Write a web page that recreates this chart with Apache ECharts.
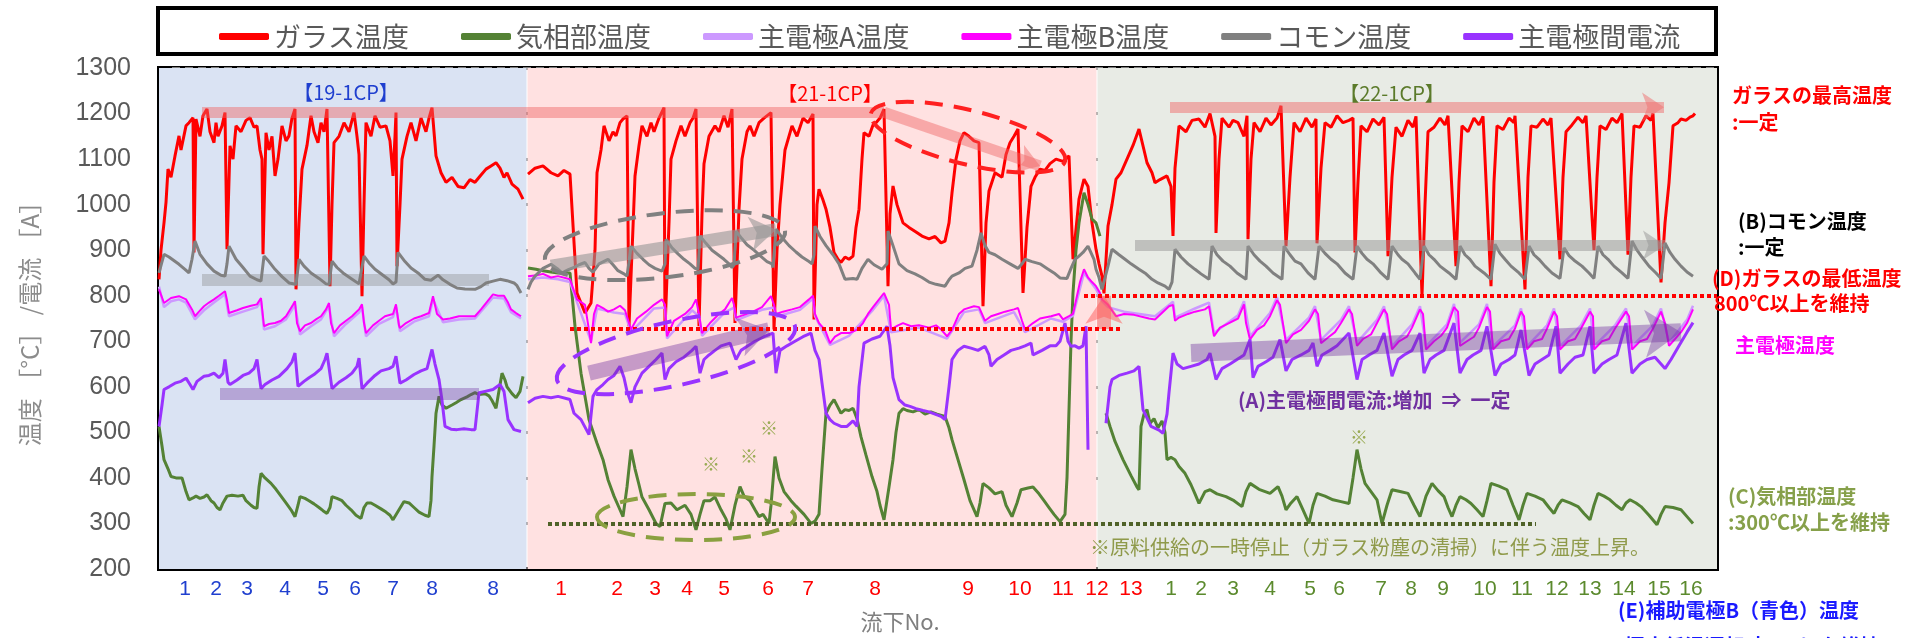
<!DOCTYPE html>
<html>
<head>
<meta charset="utf-8">
<title>温度・電流推移</title>
<script src="https://cdn.jsdelivr.net/npm/echarts@6.0.0/dist/echarts.min.js"></script>
<style>
html, body { margin: 0; padding: 0; background: #fff; }
#main { width: 1911px; height: 638px; }
</style>
</head>
<body>
<div id="main"></div>
<script>
// 横軸は経過位置 t (0..1558)、縦軸は 温度/電流
const tickPos = [26, 57, 88, 126, 164, 196, 234, 273, 334,
  402, 458, 496, 528, 565, 609, 649, 716, 809, 861, 904, 938, 972,
  1012, 1042, 1074, 1111, 1151, 1180, 1222, 1252, 1284, 1326, 1363, 1398, 1431, 1465, 1500, 1532];
const tickText = ['1', '2', '3', '4', '5', '6', '7', '8', '8',
  '1', '2', '3', '4', '5', '6', '7', '8', '9', '10', '11', '12', '13',
  '1', '2', '3', '4', '5', '6', '7', '8', '9', '10', '11', '12', '13', '14', '15', '16'];
const tickGroup = ['b', 'b', 'b', 'b', 'b', 'b', 'b', 'b', 'b',
  'r', 'r', 'r', 'r', 'r', 'r', 'r', 'r', 'r', 'r', 'r', 'r', 'r',
  'g', 'g', 'g', 'g', 'g', 'g', 'g', 'g', 'g', 'g', 'g', 'g', 'g', 'g', 'g', 'g'];

const names = ['ガラス温度', '気相部温度', '主電極A温度', '主電極B温度', 'コモン温度', '主電極間電流'];
const colors = ['#ff0000', '#548235', '#cc99ff', '#ff00ff', '#808080', '#9933ff'];

// ガラス温度
const glass = [
  [0,836],[2,900],[5,960],[7,1005],[9,1078],[12,1060],[16,1107],[20,1151],[22,1120],[27,1173],[30,1180],[34,1191],
  [35,895],[37,1188],[41,1150],[44,1195],[48,1210],[51,1160],[55,1136],[57,1180],[59,1150],[63,1173],[66,1202],
  [68,902],[71,1129],[74,1100],[77,1173],[82,1160],[87,1185],[91,1191],[95,1170],[98,1173],[101,1120],[103,1100],
  [104,891],[107,1158],[110,1120],[113,1150],[116,1063],[119,1100],[123,1173],[127,1140],[130,1151],[133,1190],[136,1210],
  [137,814],[140,960],[143,1078],[148,1130],[152,1195],[155,1160],[159,1136],[162,1180],[165,1160],[168,1210],
  [171,821],[173,1000],[175,1136],[180,1150],[185,1180],[190,1160],[195,1202],[198,1150],[200,1110],
  [203,799],[205,1000],[207,1180],[212,1150],[216,1195],[221,1170],[227,1173],[231,1140],[234,1063],[236,1150],[237,1202],
  [238,865],[241,1000],[243,1100],[248,1150],[252,1180],[257,1140],[262,1190],[267,1160],[270,1190],[273,1213],
  [277,1107],[282,1070],[287,1049],[293,1060],[299,1040],[305,1037],[311,1055],[316,1049],[322,1065],[327,1078],
  [332,1085],[337,1092],[341,1080],[345,1060],[348,1070],[353,1045],[359,1034],[364,1012],
  [366,'-'],
  [369,1067],[376,1080],[384,1085],[392,1070],[399,1063],[405,1075],[411,1067],
  [418,806],[426,762],[432,784],[436,900],[438,1070],[442,1120],[445,1173],[450,1140],[454,1160],[457,1151],[461,1180],[464,1188],[468,1195],
  [470,733],[474,950],[476,1063],[480,1130],[483,1173],[488,1150],[492,1180],[495,1160],[500,1190],[505,1213],
  [506,726],[510,960],[512,1100],[517,1140],[522,1173],[526,1150],[531,1180],[534,1190],[537,1210],
  [540,733],[543,980],[545,1090],[550,1150],[556,1173],[560,1160],[565,1195],[569,1170],[573,1210],
  [576,740],[580,990],[583,1100],[588,1160],[591,1173],[595,1150],[600,1180],[605,1190],[612,1202],
  [615,726],[618,900],[621,1000],[626,1120],[633,1173],[638,1150],[644,1190],[649,1180],[654,1199],
  [655,748],[658,1000],[660,1034],[664,1010],[667,990],[671,950],[675,895],[679,880],[682,873],[686,885],[690,880],[694,887],[697,950],[700,990],
  [703,1100],[705,1158],[710,1150],[714,1175],[717,1180],[721,1190],[725,1210],
  [729,821],[731,980],[734,1041],[738,1000],[744,960],[750,950],[757,940],[763,931],[770,925],[776,930],[782,916],[786,920],[790,960],[793,1026],
  [797,1100],[801,1140],[805,1158],[810,1150],[815,1140],[820,1136],
  [824,777],[827,960],[830,1030],[836,1070],[843,1060],[847,1110],[851,1136],[855,1150],[859,1166],
  [864,806],[868,950],[872,1040],[876,1060],[881,1078],[886,1075],[891,1090],[897,1100],[904,1095],[910,1107],
  [914,880],[920,1012],[925,1056],[929,1040],[933,960],[937,902],[940,870],[943,843],[945,805],
  [949,953],[953,1000],[957,1056],[962,1070],[968,1100],[974,1130],[980,1166],[985,1120],[988,1092],[993,1070],[996,1048],[1001,1055],[1008,1063],[1012,1040],
  [1014,931],[1016,1080],[1020,1173],[1027,1160],[1033,1185],[1040,1188],[1046,1170],[1051,1200],[1056,1150],
  [1057,938],[1060,1100],[1063,1190],[1070,1170],[1074,1185],[1079,1180],[1085,1150],[1088,1195],
  [1089,924],[1092,1100],[1095,1180],[1101,1160],[1107,1190],[1112,1175],[1118,1190],[1122,1217],
  [1127,909],[1131,1060],[1135,1180],[1141,1160],[1147,1190],[1153,1170],[1157,1188],
  [1158,915],[1162,1080],[1166,1180],[1172,1170],[1178,1195],[1184,1180],[1190,1185],[1194,1190],
  [1196,895],[1199,1050],[1202,1173],[1208,1160],[1214,1188],[1220,1175],[1225,1192],
  [1229,887],[1233,1060],[1237,1170],[1243,1150],[1249,1185],[1254,1170],[1257,1194],
  [1263,799],[1266,1000],[1269,1160],[1275,1170],[1281,1190],[1286,1175],[1289,1195],
  [1297,865],[1300,1050],[1303,1173],[1309,1160],[1315,1190],[1320,1175],[1324,1194],
  [1332,821],[1335,1050],[1338,1173],[1344,1165],[1350,1190],[1355,1180],[1356,1195],
  [1366,814],[1369,1060],[1372,1173],[1378,1170],[1384,1188],[1389,1175],[1392,1190],
  [1401,880],[1404,1060],[1407,1160],[1413,1175],[1419,1192],[1424,1180],[1427,1195],
  [1435,900],[1438,1060],[1441,1173],[1447,1165],[1453,1190],[1458,1180],[1463,1200],
  [1469,890],[1472,1060],[1475,1173],[1481,1170],[1487,1195],[1492,1185],[1494,1200],
  [1502,829],[1506,960],[1510,1048],[1514,1173],[1519,1180],[1522,1188],[1527,1185],[1531,1192],[1534,1195],[1536,1200]
];

// 気相部温度
const gas = [
  [0,513],[3,470],[5,440],[9,420],[12,403],[17,400],[23,400],[27,370],[30,352],[34,356],[37,360],[41,355],[45,358],[48,363],
  [52,350],[55,345],[58,335],[61,330],[64,345],[68,360],[73,362],[79,360],[84,362],[87,350],[92,340],[95,335],[98,333],
  [100,380],[102,410],[106,400],[112,388],[117,375],[122,360],[127,345],[132,330],[136,315],[139,340],[141,359],[146,355],
  [150,350],[155,343],[160,335],[164,328],[168,322],[171,335],[173,359],[178,355],[183,350],[187,340],[192,330],[197,318],
  [202,311],[205,335],[208,345],[212,345],[216,340],[222,332],[227,325],[231,318],[234,308],[240,330],[245,348],[250,345],
  [255,335],[260,325],[266,318],[270,315],[272,350],[273,403],[275,470],[277,542],[280,579],[283,560],[287,553],[293,560],
  [297,565],[302,572],[308,578],[312,583],[316,587],[320,583],[326,585],[330,580],[333,570],[337,553],[343,630],[346,615],
  [348,600],[353,585],[357,576],[361,590],[364,623],
  [366,'-'],
  [369,861],[377,858],[384,855],[392,852],[399,850],[411,850],[416,733],[422,630],[430,528],[438,476],[444,440],[449,396],
  [455,360],[460,335],[464,315],[468,380],[472,462],[476,420],[480,385],[483,358],[490,330],[497,300],[501,293],[506,344],
  [512,345],[518,330],[526,340],[532,320],[537,286],[541,320],[545,350],[551,350],[556,358],[562,330],[567,310],[571,286],
  [576,340],[581,381],[585,360],[591,350],[596,330],[600,315],[604,320],[610,300],[612,340],[616,447],[620,400],[625,370],
  [632,350],[637,338],[645,320],[652,300],[656,305],[660,320],[663,420],[667,542],[671,560],[675,572],[679,555],[682,542],
  [686,550],[690,548],[694,553],[698,530],[702,490],[707,450],[713,403],[718,370],[721,340],[725,308],[730,380],[734,440],
  [737,500],[740,542],[744,552],[748,548],[754,545],[760,550],[766,540],[772,545],[778,540],[786,535],[790,510],[793,484],
  [799,440],[805,396],[811,350],[818,315],[821,345],[824,388],[830,378],[836,365],[843,370],[847,340],[853,315],[858,345],
  [862,374],[869,378],[874,380],[880,365],[885,350],[890,335],[895,320],[901,304],[906,320],[908,400],[910,550],[912,700],
  [914,806],[917,900],[920,960],[925,1026],[929,1000],[933,968],[937,960],[941,931],
  [944,'-'],
  [947,542],[951,513],[956,480],[964,440],[972,405],[978,380],[980,374],[982,513],[985,540],[988,550],[991,520],[995,530],
  [999,510],[1003,525],[1006,500],[1008,440],[1012,445],[1016,440],[1020,425],[1026,410],[1032,385],[1036,365],
  [1040,344],[1046,370],[1051,374],[1058,365],[1067,359],[1075,350],[1083,337],[1087,370],[1091,388],[1100,375],[1111,366],
  [1119,381],[1123,360],[1127,330],[1132,345],[1138,359],[1144,330],[1150,300],[1154,340],[1158,366],[1166,360],[1174,352],
  [1182,348],[1190,344],[1194,400],[1198,462],[1202,420],[1206,388],[1212,370],[1218,352],[1223,300],[1228,340],[1233,374],
  [1241,370],[1249,366],[1255,340],[1261,315],[1267,360],[1273,388],[1279,372],[1285,359],[1289,335],[1293,315],[1297,340],
  [1301,359],[1307,352],[1312,344],[1318,330],[1324,315],[1328,350],[1332,388],[1340,382],[1348,374],[1354,340],[1360,308],
  [1364,340],[1368,366],[1376,360],[1384,352],[1390,335],[1395,322],[1399,340],[1403,352],[1411,345],[1419,337],[1425,322],
  [1431,308],[1435,340],[1439,366],[1445,360],[1451,352],[1457,340],[1463,330],[1467,345],[1471,352],[1477,345],[1482,337],
  [1490,318],[1498,297],[1502,320],[1506,337],[1514,335],[1522,330],[1528,315],[1534,300]
];

// 主電極A温度
const elecA = [
  [0,820],[5,775],[12,788],[20,792],[27,785],[36,748],[45,768],[55,785],[66,803],[70,755],[84,765],[98,775],[102,788],
  [105,726],[116,733],[127,748],[136,780],[141,715],[152,733],[162,748],[170,777],[175,711],[187,738],[200,763],[203,775],
  [207,711],[220,738],[234,753],[237,775],[241,722],[255,743],[270,755],[274,792],[284,742],[300,748],[316,750],[327,778],
  [334,796],[345,794],[352,764],[362,750],
  [366,'-'],
  [369,836],[384,840],[399,836],[411,830],[418,786],[432,700],[438,772],[455,763],[466,760],[472,720],[495,772],[506,774],
  [508,706],[533,768],[540,755],[543,712],[566,764],[575,774],[577,746],[603,769],[615,774],[617,754],[641,769],[654,794],
  [656,755],[671,692],[690,712],[714,769],[725,800],[732,720],[760,730],[788,706],[805,764],[820,770],[826,740],[855,764],
  [866,720],[892,750],[904,743],[914,756],[925,850],[937,815],[943,788],
  [949,775],[965,765],[996,755],[1014,787],[1016,752],[1036,772],[1050,785],[1055,718],[1079,757],[1085,788],[1091,711],
  [1111,762],[1118,797],[1127,703],[1150,752],[1156,777],[1162,703],[1182,747],[1190,777],[1198,697],[1218,747],[1225,777],
  [1233,689],[1253,737],[1261,777],[1267,689],[1288,737],[1295,782],[1301,697],[1320,737],[1328,782],[1334,689],[1356,735],
  [1362,772],[1368,689],[1388,735],[1395,772],[1401,689],[1422,735],[1431,772],[1435,689],[1456,735],[1467,772],[1473,689],
  [1494,735],[1502,772],[1510,697],[1528,747],[1534,778]
];

// 主電極B温度
const elecB = [
  [0,814],[5,784],[12,795],[20,799],[27,792],[33,770],[36,755],[40,765],[45,777],[50,785],[55,792],[60,800],[66,810],
  [68,790],[70,762],[78,768],[84,773],[92,778],[98,781],[102,795],[105,733],[110,738],[116,740],[122,745],[127,755],
  [134,780],[136,788],[138,740],[141,722],[146,735],[152,740],[157,748],[162,755],[167,770],[170,784],[172,740],[175,718],
  [181,735],[187,745],[193,755],[200,770],[203,781],[205,740],[207,718],[214,735],[220,745],[226,755],[234,760],[237,781],
  [240,735],[241,729],[247,740],[255,750],[262,755],[270,762],[274,799],[278,760],[284,748],[291,750],[300,755],[310,755],
  [316,755],[322,770],[327,784],[334,803],[339,800],[345,800],[349,785],[352,770],[357,762],[362,755],
  [366,'-'],
  [369,843],[378,845],[384,848],[392,840],[399,843],[411,836],[418,792],[426,780],[432,696],[435,760],[438,780],[444,773],
  [449,765],[455,770],[461,778],[466,768],[470,740],[472,726],[478,750],[487,765],[495,780],[503,792],[506,780],[508,711],
  [515,745],[526,760],[533,775],[537,792],[540,760],[543,718],[551,740],[560,760],[566,770],[573,795],[575,780],[577,752],
  [585,758],[594,765],[603,775],[612,799],[615,780],[617,760],[624,765],[633,770],[641,775],[650,792],[654,800],[656,760],
  [660,740],[666,725],[671,696],[676,710],[682,718],[690,718],[698,725],[704,740],[709,760],[714,775],[725,806],[730,780],
  [732,726],[739,735],[744,740],[752,733],[760,735],[770,730],[777,735],[782,726],[788,711],[793,725],[800,760],[805,770],
  [815,777],[820,775],[826,745],[832,755],[839,760],[846,765],[855,770],[859,773],[863,745],[866,726],[874,740],[881,750],
  [892,755],[900,760],[904,748],[910,755],[914,760],[918,800],[921,830],[925,858],[929,840],[933,830],[937,821],[941,806],
  [943,792],[949,780],[957,755],[965,760],[975,758],[990,750],[996,748],[1010,777],[1014,780],[1016,745],[1020,752],
  [1029,760],[1036,765],[1046,770],[1050,777],[1055,711],[1061,730],[1070,740],[1079,750],[1085,781],[1087,740],[1091,704],
  [1098,725],[1105,735],[1111,755],[1118,790],[1121,780],[1127,696],[1134,715],[1142,725],[1150,745],[1156,770],[1159,760],
  [1162,696],[1170,710],[1176,720],[1182,740],[1190,770],[1193,760],[1198,690],[1204,705],[1212,715],[1218,740],[1225,770],
  [1228,760],[1233,682],[1240,700],[1248,710],[1253,730],[1261,770],[1264,760],[1267,682],[1275,700],[1282,712],[1288,730],
  [1295,775],[1299,765],[1301,690],[1308,700],[1315,710],[1320,730],[1328,775],[1331,765],[1334,682],[1342,700],[1350,705],
  [1356,728],[1362,765],[1365,755],[1368,682],[1375,700],[1383,705],[1388,728],[1395,765],[1398,755],[1401,682],[1409,700],
  [1416,705],[1422,728],[1431,765],[1434,755],[1435,682],[1443,700],[1450,705],[1456,728],[1467,765],[1470,755],[1473,682],
  [1481,700],[1488,705],[1494,728],[1502,765],[1506,740],[1510,690],[1516,705],[1522,720],[1528,740],[1534,770]
];

// コモン温度
const common = [
  [0,850],[5,891],[10,885],[20,869],[26,858],[30,850],[33,880],[36,920],[41,891],[48,870],[55,854],[62,845],[66,843],
  [68,870],[70,909],[77,880],[84,862],[91,843],[98,835],[102,832],[105,887],[110,875],[116,858],[123,842],[130,828],
  [137,825],[140,880],[145,865],[152,850],[160,838],[167,826],[170,825],[173,876],[178,862],[184,850],[192,838],[200,826],
  [202,825],[205,887],[210,872],[216,858],[224,845],[230,835],[234,826],[237,830],[239,895],[246,875],[252,861],[259,850],
  [266,836],[272,834],[275,839],[279,845],[284,835],[291,825],[298,817],[306,815],[316,814],[322,820],[327,828],[334,832],
  [341,836],[348,833],[355,828],[358,822],[362,806],
  [366,'-'],
  [369,814],[372,830],[376,843],[384,860],[392,869],[398,860],[403,850],[410,858],[415,862],[420,868],[426,873],[430,860],
  [434,852],[440,870],[449,880],[454,868],[459,855],[465,848],[468,843],[470,875],[472,909],[478,893],[484,880],[490,868],
  [496,860],[503,854],[506,870],[507,924],[513,905],[519,892],[525,880],[531,870],[536,860],[539,858],[541,931],[547,915],
  [553,900],[559,890],[565,880],[570,870],[573,862],[575,868],[577,942],[583,925],[588,912],[595,900],[601,888],[608,875],
  [613,870],[614,862],[617,946],[624,925],[630,910],[637,896],[643,885],[650,875],[653,870],[655,890],[656,953],[661,930],
  [667,910],[674,890],[680,870],[686,836],[694,838],[698,836],[703,860],[709,880],[715,868],[723,858],[728,870],[729,942],
  [734,910],[740,870],[748,855],[756,848],[763,840],[770,830],[777,825],[786,821],[790,835],[793,843],[800,850],[806,860],
  [813,865],[818,900],[822,938],[826,910],[830,895],[836,890],[843,880],[851,870],[859,860],[863,870],[866,880],[873,875],
  [881,870],[888,860],[895,850],[901,839],[908,838],[912,860],[916,880],[920,887],[924,895],[929,909],[935,880],[937,858],
  [940,840],[943,814],[949,865],[953,902],[960,890],[966,880],[972,870],[980,858],[987,848],[993,836],[999,828],[1006,821],
  [1010,814],[1013,830],[1016,902],[1022,885],[1029,870],[1036,858],[1042,848],[1050,836],[1053,909],[1058,890],[1064,876],
  [1071,865],[1078,850],[1087,836],[1089,909],[1095,890],[1101,876],[1107,865],[1114,850],[1123,836],[1125,909],[1131,890],
  [1136,876],[1142,870],[1149,850],[1156,836],[1160,909],[1166,893],[1172,880],[1178,870],[1186,850],[1194,836],[1198,909],
  [1203,893],[1208,880],[1214,870],[1222,850],[1229,836],[1233,909],[1239,890],[1243,880],[1249,870],[1256,850],[1261,836],
  [1265,909],[1270,890],[1275,880],[1281,865],[1290,850],[1297,836],[1301,909],[1306,890],[1311,880],[1316,865],[1325,850],
  [1332,836],[1336,913],[1341,893],[1346,880],[1352,865],[1360,850],[1366,836],[1370,909],[1375,890],[1380,880],[1386,865],
  [1393,850],[1401,838],[1405,905],[1410,888],[1415,878],[1423,865],[1430,850],[1435,838],[1439,909],[1444,890],[1449,880],
  [1455,865],[1463,850],[1469,838],[1473,920],[1478,900],[1483,885],[1490,865],[1497,850],[1502,838],[1506,916],[1511,895],
  [1516,880],[1522,865],[1528,852],[1534,843]
];

// 主電極間電流
const current = [
  [0,513],[3,560],[5,594],[10,600],[16,608],[22,612],[27,619],[31,605],[34,594],[38,612],[45,623],[50,625],[55,630],[60,620],
  [64,630],[66,660],[69,610],[71,605],[78,615],[84,625],[90,630],[95,640],[98,660],[102,596],[106,605],[113,615],[120,623],
  [128,640],[133,655],[136,674],[139,601],[145,612],[150,620],[155,627],[162,640],[166,660],[168,674],[173,596],[180,610],
  [187,620],[193,630],[198,645],[200,663],[203,596],[208,608],[216,625],[222,635],[230,640],[234,645],[237,667],[241,608],
  [247,615],[255,627],[262,635],[268,640],[273,682],[276,650],[280,616],[283,570],[286,513],[292,507],[298,506],[305,508],
  [312,506],[316,506],[320,587],[326,590],[334,594],[341,605],[345,590],[349,528],[355,506],[362,502],
  [366,'-'],
  [369,565],[376,575],[384,579],[392,576],[399,579],[411,572],[415,542],[422,528],[430,495],[434,579],[438,594],[444,605],
  [449,616],[455,625],[461,645],[465,620],[468,590],[472,565],[476,600],[483,630],[490,645],[497,660],[503,674],[506,616],
  [510,640],[517,655],[525,665],[533,680],[537,689],[541,630],[545,660],[550,670],[556,680],[562,690],[571,696],[577,660],
  [582,680],[589,690],[596,700],[605,710],[614,718],[617,630],[621,680],[628,690],[636,700],[644,710],[652,718],[656,680],
  [660,660],[663,608],[667,542],[671,528],[675,520],[682,513],[688,513],[694,525],[698,513],[700,600],[705,696],[713,705],
  [721,711],[728,733],[731,690],[734,620],[740,572],[746,560],[751,557],[757,552],[764,548],[770,545],[776,540],[782,535],
  [786,528],[790,600],[793,660],[799,680],[805,689],[812,685],[819,680],[826,689],[830,670],[832,645],[838,660],[845,670],
  [852,680],[860,685],[866,690],[872,696],[874,670],[883,680],[891,690],[897,690],[901,700],[906,740],[909,700],[912,689],
  [916,690],[920,685],[924,690],[927,733],[929,462],
  [938,'-'],
  [947,520],[951,600],[953,616],[960,625],[968,630],[975,635],[980,645],[984,550],[992,513],[1000,505],[1004,498],[1008,540],
  [1010,587],[1014,674],[1018,650],[1024,640],[1032,645],[1040,650],[1048,660],[1051,674],[1057,616],[1063,640],[1071,650],
  [1078,660],[1085,670],[1091,704],[1094,620],[1099,645],[1107,655],[1114,665],[1121,704],[1127,635],[1133,660],[1142,670],
  [1150,680],[1154,696],[1158,645],[1163,670],[1171,680],[1178,690],[1190,718],[1198,616],[1203,660],[1210,670],[1218,680],
  [1225,718],[1233,623],[1239,660],[1245,670],[1253,680],[1261,718],[1265,630],[1271,660],[1277,670],[1285,680],[1295,740],
  [1301,630],[1308,660],[1314,670],[1322,680],[1328,733],[1336,625],[1342,650],[1350,660],[1356,670],[1362,725],[1370,625],
  [1376,650],[1383,660],[1390,670],[1397,733],[1401,630],[1409,650],[1416,665],[1424,670],[1431,733],[1435,630],[1443,650],
  [1450,660],[1458,670],[1467,740],[1473,630],[1481,650],[1488,660],[1496,665],[1502,650],[1506,640],[1512,660],[1520,690],
  [1528,720],[1534,741]
];

const seriesData = [glass, gas, elecA, elecB, common, current];
const lineWidths = [3, 3, 2.5, 2, 3, 3];

var chart = echarts.init(document.getElementById('main'));

function seg(x1, y1, x2, y2, color, width, arrow, dash) {
    return [
        { coord: [x1, y1], symbol: 'none', lineStyle: { color: color, width: width, type: dash || 'solid', cap: 'butt' } },
        { coord: [x2, y2], symbol: arrow ? 'arrow' : 'none', symbolSize: arrow ? width * 2 : 0 }
    ];
}

var series = [{
    type: 'line', data: [], z: -1, silent: true,
    markArea: {
        silent: true,
        data: [
            [{ xAxis: 0, itemStyle: { color: '#dae3f3' } }, { xAxis: 367.5 }],
            [{ xAxis: 368.5, itemStyle: { color: '#ffe1e1' } }, { xAxis: 937.5 }],
            [{ xAxis: 938.5, itemStyle: { color: '#e8ebe5' } }, { xAxis: 1558 }]
        ]
    }
}];

names.forEach(function (n, i) {
    series.push({
        name: n,
        type: 'line',
        data: seriesData[i],
        showSymbol: false,
        symbol: 'none',
        connectNulls: false,
        lineStyle: { color: colors[i], width: lineWidths[i] },
        itemStyle: { color: colors[i] }
    });
});

// 注記（帯・矢印・点線）
series.push({
    type: 'line', data: [], z: 10, silent: true,
    markLine: {
        silent: true,
        label: { show: false },
        symbol: ['none', 'none'],
        data: [
            seg(43, 1203, 725, 1203, 'rgba(240,100,100,0.45)', 11, false),
            seg(725, 1203, 881, 1085, 'rgba(240,100,100,0.45)', 11, true),
            seg(43, 834, 330, 834, 'rgba(128,128,128,0.35)', 12, false),
            seg(61, 585, 320, 585, 'rgba(112,48,160,0.35)', 12, false),
            seg(392, 865, 617, 945, 'rgba(150,150,150,0.6)', 13, true),
            seg(430, 630, 610, 725, 'rgba(112,48,160,0.4)', 15, true),
            seg(1011, 1214, 1505, 1214, 'rgba(240,110,110,0.5)', 11, true),
            seg(976, 911, 1506, 911, 'rgba(150,150,150,0.5)', 11, true),
            seg(1032, 674, 1522, 720, 'rgba(112,48,160,0.4)', 18, true),
            seg(945, 727, 945, 800, 'rgba(255,90,90,0.5)', 14, true),
            seg(411, 727, 964, 727, '#ff0000', 4, false, [4, 3]),
            seg(925, 800, 1558, 800, '#ff0000', 4, false, [4, 3]),
            seg(389, 300, 1377, 300, '#4f6228', 4, false, [4, 3])
        ]
    }
});

chart.setOption({
    animation: false,
    textStyle: { fontFamily: "'Noto Sans CJK JP', sans-serif" },
    legend: {
        data: names.map(function (n, i) { return { name: n, icon: 'roundRect', itemStyle: { color: colors[i] } }; }),
        left: 214,
        top: 18,
        itemWidth: 50,
        itemHeight: 7,
        itemGap: 52,
        textStyle: { fontSize: 27, color: '#595959', fontFamily: "'Noto Sans CJK JP', sans-serif" }
    },
    grid: {
        left: 159, right: 194, top: 68, bottom: 69,
        show: true, borderColor: '#000', borderWidth: 4, backgroundColor: 'transparent'
    },
    xAxis: {
        type: 'value', min: 0, max: 1558,
        axisLine: { show: true, lineStyle: { color: '#000', width: 4 } },
        axisTick: { show: false },
        splitLine: { show: false },
        axisLabel: {
            customValues: tickPos,
            margin: 10,
            fontFamily: "'Liberation Sans', sans-serif",
            fontSize: 21,
            formatter: function (v) {
                var i = tickPos.indexOf(v);
                if (i < 0) return '';
                return '{' + tickGroup[i] + '|' + tickText[i] + '}';
            },
            rich: {
                b: { color: '#1f3fcf', fontSize: 21, fontFamily: "'Liberation Sans', sans-serif" },
                r: { color: '#ff0000', fontSize: 21, fontFamily: "'Liberation Sans', sans-serif" },
                g: { color: '#5b8a2d', fontSize: 21, fontFamily: "'Liberation Sans', sans-serif" }
            }
        }
    },
    yAxis: {
        type: 'value', min: 200, max: 1300, interval: 100,
        axisLine: { show: true, lineStyle: { color: '#000', width: 4 } },
        axisTick: { show: true, inside: true, length: 11, lineStyle: { color: '#000', width: 2 } },
        minorTick: { show: true, splitNumber: 10, length: 7, lineStyle: { color: '#000', width: 2 } },
        axisLabel: {
            fontSize: 25, color: '#595959', margin: 28, fontFamily: "'Liberation Sans', sans-serif",
            formatter: function (v) { return String(v); }
        },
        splitLine: { show: true, lineStyle: { color: '#808080', width: 3, type: [8, 5] } }
    },
    series: series
});

// 楕円の注記（データ座標 → ピクセル）
function px(t, v) { return chart.convertToPixel({ gridIndex: 0 }, [t, v]); }
function ell(t, v, rx, ry, rot, color) {
    var p = px(t, v);
    return {
        type: 'ellipse', x: p[0], y: p[1], rotation: rot, silent: true, z: 60,
        shape: { cx: 0, cy: 0, rx: rx, ry: ry },
        style: { fill: 'none', stroke: color, lineWidth: 4, lineDash: [18, 11] }
    };
}
function txt(x, y, text, color, font, align, extra) {
    var o = {
        type: 'text', x: x, y: y, silent: true, z: 70,
        style: { text: text, fill: color, font: font, align: align || 'left', verticalAlign: 'middle' }
    };
    if (extra) Object.assign(o, extra);
    return o;
}
var JP = "'Noto Sans CJK JP', sans-serif";

chart.setOption({
    graphic: [
        { type: 'rect', z: -5, silent: true, shape: { x: 158, y: 8, width: 1558, height: 46 },
          style: { fill: '#fff', stroke: '#000', lineWidth: 4 } },
        ell(809, 1148, 100, 27, -0.24, '#ff2020'),
        ell(506, 911, 121, 32, 0.12, '#808080'),
        ell(517, 674, 122, 32, 0.22, '#9933ff'),
        ell(537, 314, 99, 23, 0, '#8aa040'),
        txt(346, 92, '【19-1CP】', '#1f3fcf', '20px ' + JP, 'center'),
        txt(830, 93, '【21-1CP】', '#ff0000', '20px ' + JP, 'center'),
        txt(1392, 93, '【22-1CP】', '#5b7a2a', '20px ' + JP, 'center'),
        txt(1238, 400, '(A)主電極間電流:増加  ⇒  一定', '#7030a0', 'bold 20px ' + JP),
        txt(1090, 547, '※原料供給の一時停止（ガラス粉塵の清掃）に伴う温度上昇。', '#8f9a4a', '20px ' + JP),
        txt(711, 464, '※', '#9aab55', '18px ' + JP, 'center'),
        txt(749, 456, '※', '#9aab55', '18px ' + JP, 'center'),
        txt(769, 428, '※', '#9aab55', '18px ' + JP, 'center'),
        txt(1359, 437, '※', '#9aab55', '18px ' + JP, 'center'),
        txt(1732, 95, 'ガラスの最高温度', '#ff0000', 'bold 20px ' + JP),
        txt(1732, 122, ':一定', '#ff0000', 'bold 20px ' + JP),
        txt(1738, 221, '(B)コモン温度', '#000000', 'bold 20px ' + JP),
        txt(1738, 247, ':一定', '#000000', 'bold 20px ' + JP),
        txt(1712, 278, '(D)ガラスの最低温度', '#ff0000', 'bold 20px ' + JP),
        txt(1714, 303, '800℃以上を維持', '#ff0000', 'bold 20px ' + JP),
        txt(1735, 345, '主電極温度', '#ff00ff', 'bold 20px ' + JP),
        txt(1728, 496, '(C)気相部温度', '#86a04a', 'bold 20px ' + JP),
        txt(1728, 522, ':300℃以上を維持', '#86a04a', 'bold 20px ' + JP),
        txt(1618, 610, '(E)補助電極B（青色）温度', '#1a1aff', 'bold 20px ' + JP),
        txt(1618, 646, ':極度低温運転時300℃を維持', '#1a1aff', 'bold 20px ' + JP),
        txt(900, 622, '流下No.', '#7f7f7f', '22px ' + JP, 'center'),
        txt(30, 318, '温度 ［°C］ /電流 ［A］', '#8c8c8c', '24px ' + JP, 'center', { rotation: Math.PI / 2 })
    ]
});
</script>
</body>
</html>
